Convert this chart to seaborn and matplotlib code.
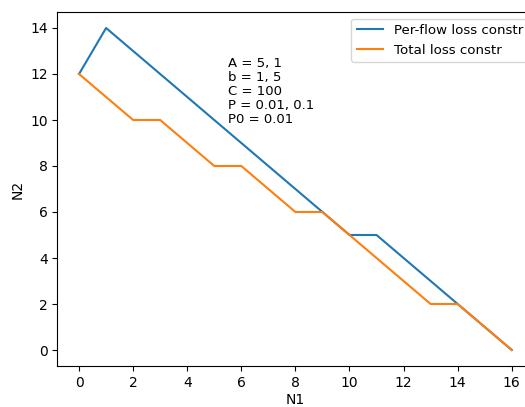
import matplotlib
matplotlib.use("Agg")
import matplotlib.pyplot as plt
import seaborn as sns
import pandas as pd

n1 = list(range(17))
per_flow = [12, 14, 13, 12, 11, 10, 9, 8, 7, 6, 5, 5, 4, 3, 2, 1, 0]
total = [12, 11, 10, 10, 9, 8, 8, 7, 6, 6, 5, 4, 3, 2, 2, 1, 0]
labels = ["Per-flow loss constr", "Total loss constr"]
info = "A = 5, 1\nb = 1, 5\nC = 100\nP = 0.01, 0.1\nP0 = 0.01"

df = pd.DataFrame({
    "N1": n1 * 2,
    "N2": per_flow + total,
    "series": [labels[0]] * len(n1) + [labels[1]] * len(n1),
})

fig = plt.figure(figsize=(5.25, 4.07), dpi=100)
ax = fig.add_axes([57.4 / 525, 40.9 / 407, 476 / 525, 354.2 / 407])
sns.lineplot(data=df, x="N1", y="N2", hue="series", ax=ax,
             palette=["#1f77b4", "#ff7f0e"], linewidth=1.5)
ax.legend(loc="upper right", title=None, bbox_to_anchor=(1 + 2 / 476, 1),
          fontsize=9.6)
ax.set_xticks(range(0, 17, 2))
ax.set_yticks(range(0, 15, 2))
ax.set_xlabel("N1", labelpad=2.5)
ax.set_ylabel("N2")
ax.text(5.5, 12.75, info, va="top", ha="left", fontsize=9.5, linespacing=1.1)
fig.savefig("out.png", dpi=100)
